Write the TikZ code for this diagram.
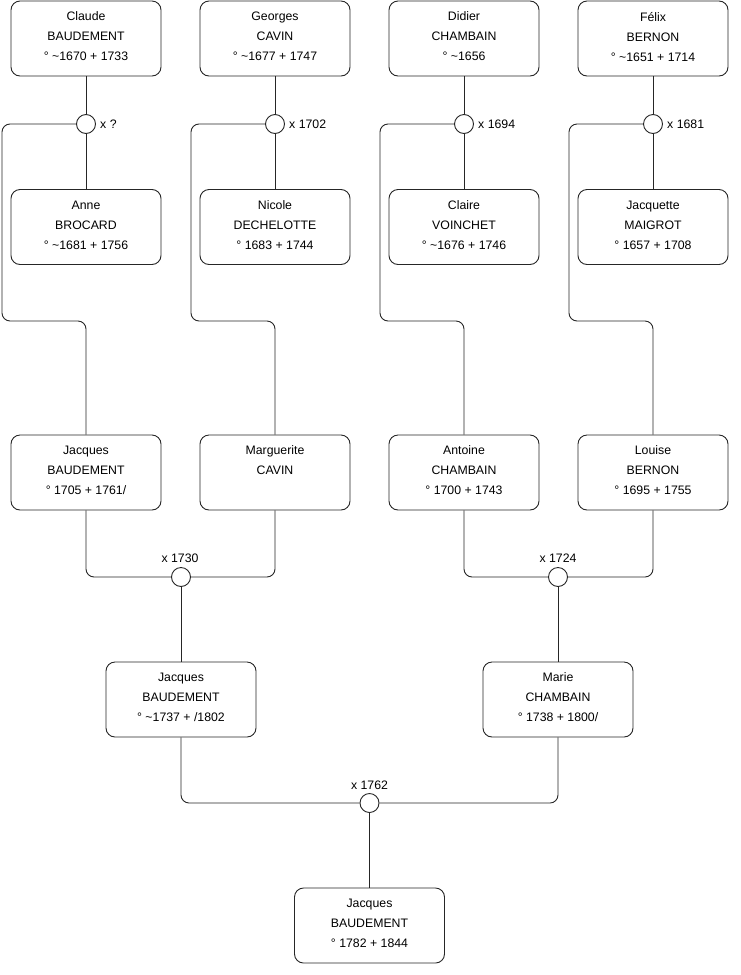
\documentclass[tikz,border=0pt]{standalone}
\usepackage{fontspec}
\setmainfont{Liberation Sans}
\begin{document}
\begin{tikzpicture}[x=1pt,y=-1pt,
  person/.style={draw=black!85,line width=0.9pt,rounded corners=9pt,minimum width=150pt,minimum height=75pt,inner sep=0pt,align=center,font=\fontsize{12.3}{20}\selectfont,execute at end node={\rule[-4pt]{0pt}{4pt}}},
  marr/.style={draw=black!85,line width=0.9pt,circle,minimum size=19pt,inner sep=0pt,fill=white},
  lbl/.style={font=\fontsize{12.3}{14}\selectfont,inner sep=0pt},
  link/.style={line width=0.9pt,black!85,rounded corners=8pt}]
\useasboundingbox (0,0) rectangle (740,975);
% row 1
\node[person] (claude) at (86,38.5) {Claude\\BAUDEMENT\\° \textasciitilde1670 + 1733};
\node[person] (georges) at (275,38.5) {Georges\\CAVIN\\° \textasciitilde1677 + 1747};
\node[person] (didier) at (464,38.5) {Didier\\CHAMBAIN\\° \textasciitilde1656};
\node[person] (felix) at (653,38.5) {Félix\\BERNON\\° \textasciitilde1651 + 1714};
% marriages row 1
\node[marr] (m1) at (86,124) {};
\node[marr] (m2) at (275,124) {};
\node[marr] (m3) at (464,124) {};
\node[marr] (m4) at (653,124) {};
\node[lbl,anchor=west] (l1) at (100,124) {x ?};
\node[lbl,anchor=west] (l2) at (289,124) {x 1702};
\node[lbl,anchor=west] (l3) at (478,124) {x 1694};
\node[lbl,anchor=west] (l4) at (667,124) {x 1681};
% row 2
\node[person] (anne) at (86,227) {Anne\\BROCARD\\° \textasciitilde1681 + 1756};
\node[person] (nicole) at (275,227) {Nicole\\DECHELOTTE\\° 1683 + 1744};
\node[person] (claire) at (464,227) {Claire\\VOINCHET\\° \textasciitilde1676 + 1746};
\node[person] (jacquette) at (653,227) {Jacquette\\MAIGROT\\° 1657 + 1708};
% row 3
\node[person] (jacques1) at (86,472.5) {Jacques\\BAUDEMENT\\° 1705 + 1761/};
\node[person] (marguerite) at (275,472.5) {Marguerite\\CAVIN\\};
\node[person] (antoine) at (464,472.5) {Antoine\\CHAMBAIN\\° 1700 + 1743};
\node[person] (louise) at (653,472.5) {Louise\\BERNON\\° 1695 + 1755};
% marriages row 3
\node[marr] (m5) at (181,577) {};
\node[marr] (m6) at (558,577) {};
\node[lbl] (l5) at (180,558) {x 1730};
\node[lbl] (l6) at (558,558) {x 1724};
% row 4
\node[person] (jacques2) at (181,699.5) {Jacques\\BAUDEMENT\\° \textasciitilde1737 + /1802};
\node[person] (marie) at (558,699.5) {Marie\\CHAMBAIN\\° 1738 + 1800/};
% marriage row 4
\node[marr] (m7) at (369.5,803) {};
\node[lbl] (l7) at (369.5,785) {x 1762};
% row 5
\node[person] (jacques3) at (369.5,925.5) {Jacques\\BAUDEMENT\\° 1782 + 1844};
% connectors row1
\draw[link] (claude.south) -- (m1.north);
\draw[link] (m1.south) -- (anne.north);
\draw[link] (georges.south) -- (m2.north);
\draw[link] (m2.south) -- (nicole.north);
\draw[link] (didier.south) -- (m3.north);
\draw[link] (m3.south) -- (claire.north);
\draw[link] (felix.south) -- (m4.north);
\draw[link] (m4.south) -- (jacquette.north);
% children links
\draw[link] (m1.west) -- (2,124) -- (2,321) -- (86,321) -- (jacques1.north);
\draw[link] (m2.west) -- (191,124) -- (191,321) -- (275,321) -- (marguerite.north);
\draw[link] (m3.west) -- (380,124) -- (380,321) -- (464,321) -- (antoine.north);
\draw[link] (m4.west) -- (569,124) -- (569,321) -- (653,321) -- (louise.north);
% row3 marriages
\draw[link] (jacques1.south) -- (86,577) -- (m5.west);
\draw[link] (marguerite.south) -- (275,577) -- (m5.east);
\draw[link] (antoine.south) -- (464,577) -- (m6.west);
\draw[link] (louise.south) -- (653,577) -- (m6.east);
\draw[link] (m5.south) -- (jacques2.north);
\draw[link] (m6.south) -- (marie.north);
% row4 marriage
\draw[link] (jacques2.south) -- (181,803) -- (m7.west);
\draw[link] (marie.south) -- (558,803) -- (m7.east);
\draw[link] (m7.south) -- (jacques3.north);
\end{tikzpicture}
\end{document}
